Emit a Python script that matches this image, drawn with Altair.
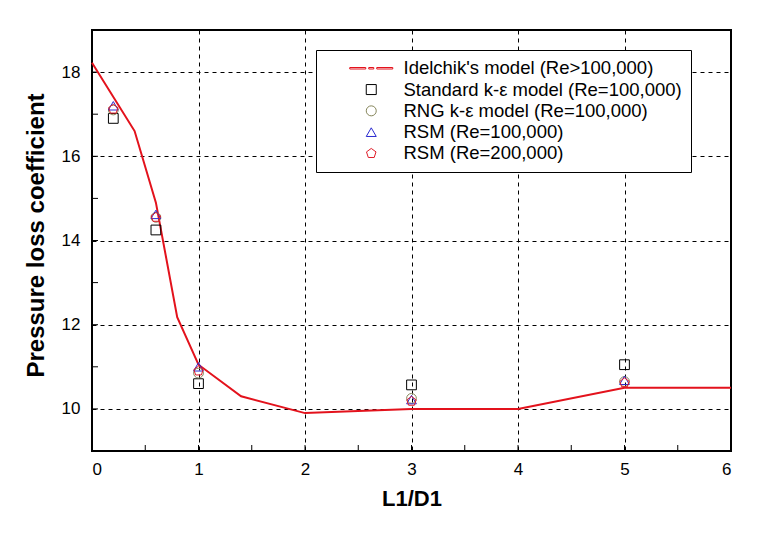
import altair as alt
import pandas as pd

# ---------------- data ----------------
idel_x = [0.0, 0.4, 0.6, 0.8, 1.0, 1.4, 2.0, 3.0, 4.0, 5.0, 6.0]
idel_y = [18.22, 16.6, 14.9, 12.18, 11.05, 10.3, 9.9, 10.0, 10.0, 10.5, 10.5]

pts_x = [0.2, 0.6, 1.0, 3.0, 5.0]
std_ke = [16.9, 14.25, 10.6, 10.57, 11.05]
rng_ke = [17.1, 14.55, 10.85, 10.25, 10.65]
rsm_100k = [17.2, 14.62, 11.0, 10.22, 10.68]
rsm_200k = [17.12, 14.55, 10.9, 10.18, 10.62]

series_names = [
    "Idelchik's model (Re>100,000)",
    "Standard k-\u03b5 model (Re=100,000)",
    "RNG k-\u03b5 model (Re=100,000)",
    "RSM (Re=100,000)",
    "RSM (Re=200,000)",
]
series_colors = ["#e3121c", "#000000", "#85855a", "#2a2ad0", "#e01c28"]

x_major = [0, 1, 2, 3, 4, 5, 6]
x_minor = [0.5, 1.5, 2.5, 3.5, 4.5, 5.5]
y_major = [10, 12, 14, 16, 18]
y_minor = [11, 13, 15, 17]

# ---------------- tables ----------------
line_df = pd.DataFrame({"x": idel_x, "y": idel_y})
rows = []
for name, vals in zip(series_names[1:], [std_ke, rng_ke, rsm_100k, rsm_200k]):
    for xv, yv in zip(pts_x, vals):
        rows.append({"x": xv, "y": yv, "series": name})
pts_df = pd.DataFrame(rows)
xt_df = pd.DataFrame({"v": x_major[1:-1] + x_minor})
yt_df = pd.DataFrame({"v": y_major + y_minor})

W, H = 639, 421
FONT = "Liberation Sans"

xscale = alt.Scale(domain=[0, 6], nice=False, zero=False)
yscale = alt.Scale(domain=[9, 19], nice=False, zero=False)

line_sym = ("M-4.3,-0.15H-1.1V0.15H-4.3Z M-0.5,-0.15H0.5V0.15H-0.5Z "
            "M1.1,-0.15H4.3V0.15H1.1Z")
pentagon = "M0,-1L0.951,-0.309L0.588,0.809L-0.588,0.809L-0.951,-0.309Z"

base = alt.Chart(line_df)

line = base.mark_line(color="#e3121c", strokeWidth=2).encode(
    x=alt.X("x:Q", scale=xscale,
            axis=alt.Axis(values=x_major, format="d", title="L1/D1",
                          labelPadding=10, titleX=W / 2, titleY=47,
                          titleBaseline="middle", titleAlign="center")),
    y=alt.Y("y:Q", scale=yscale,
            axis=alt.Axis(values=y_major, format="d",
                          title="Pressure loss coefficient",
                          labelPadding=12, titleX=-56, titleY=205,
                          titleFontSize=24,
                          titleBaseline="middle", titleAlign="center")),
)

legend = alt.Legend(
    title=None, orient="none", legendX=224, legendY=20,
    fillColor="white", strokeColor="black", padding=9,
    symbolOffset=37, labelOffset=23, symbolSize=100,
    symbolStrokeWidth=1, labelFont=FONT, labelFontSize=18.5,
    labelColor="black", rowPadding=2.3, labelLimit=400,
)

points = alt.Chart(pts_df).mark_point(filled=False, size=95, strokeWidth=1, opacity=1).encode(
    x=alt.X("x:Q", scale=xscale),
    y=alt.Y("y:Q", scale=yscale),
    color=alt.Color("series:N", scale=alt.Scale(domain=series_names, range=series_colors),
                    legend=legend),
    shape=alt.Shape("series:N",
                    scale=alt.Scale(domain=series_names,
                                    range=[line_sym, "square", "circle", "triangle-up", pentagon]),
                    legend=legend),
)

xticks = alt.Chart(xt_df).mark_rule(color="black", strokeWidth=1).encode(
    x=alt.X("v:Q", scale=xscale), y=alt.value(H), y2=alt.value(H - 6))
yticks = alt.Chart(yt_df).mark_rule(color="black", strokeWidth=1).encode(
    y=alt.Y("v:Q", scale=yscale), x=alt.value(0), x2=alt.value(6))

chart = alt.layer(xticks, yticks, line, points).properties(
    width=W, height=H,
    autosize=alt.AutoSizeParams(type="none"),
    padding={"left": 84, "top": 22, "right": 20, "bottom": 60},
).configure_view(
    stroke="black", strokeWidth=2
).configure_axis(
    labelFont=FONT, labelFontSize=17, labelColor="black",
    titleFont=FONT, titleFontSize=22, titleFontWeight="bold", titleColor="black",
    domain=False, ticks=False, grid=True, gridColor="black",
    gridDash=[4, 4], gridWidth=1, gridOpacity=1,
)

chart.save("out.html", embed_options={"renderer": "svg", "actions": False})
